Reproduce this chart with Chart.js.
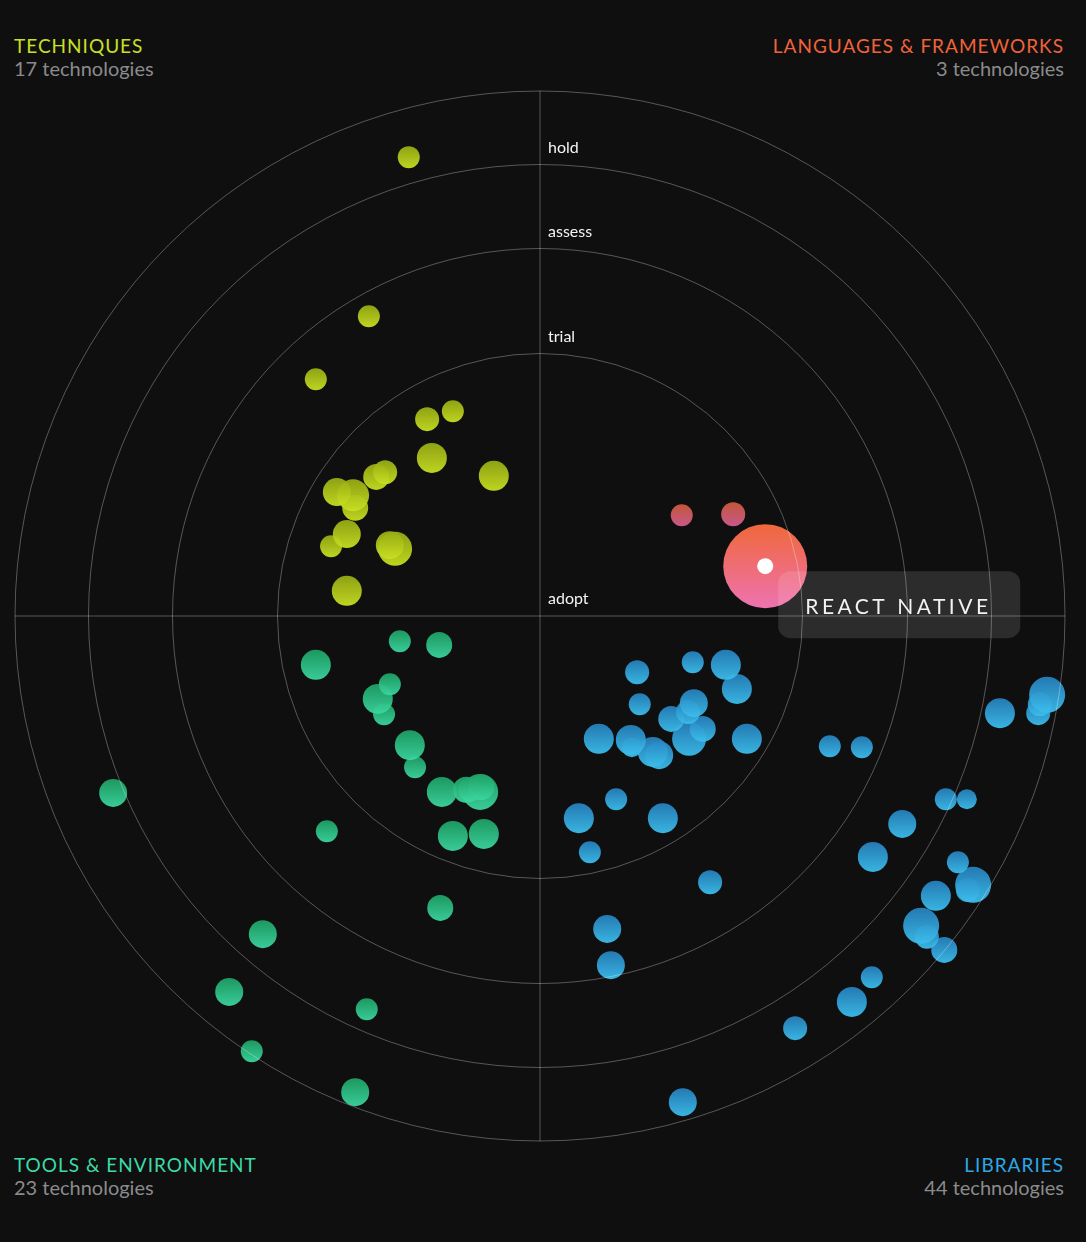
<!DOCTYPE html>
<html>
<head>
<meta charset="utf-8">
<title>Tech radar</title>
<script src="https://cdn.jsdelivr.net/npm/chart.js@4.4.1/dist/chart.umd.min.js"></script>
<style>
  html, body { margin: 0; padding: 0; background: #0f0f10; }
  body { width: 1086px; height: 1242px; position: relative; overflow: hidden; font-family: Lato, 'Noto Sans', sans-serif; }
  #radar { position: absolute; left: 0; top: 0; }
  .quad { position: absolute; line-height: 22px; }
  .quad .name { font-size: 19px; letter-spacing: 1px; }
  .quad .count { font-size: 20px; color: #8b8b8b; }
  .tl { left: 14px; top: 35px; }
  .tr { right: 22px; top: 35px; text-align: right; }
  .bl { left: 14px; top: 1154px; }
  .br { right: 22px; top: 1154px; text-align: right; }
</style>
</head>
<body>
<div class="quad tl"><div class="name" style="color:#c9e023">TECHNIQUES</div><div class="count">17 technologies</div></div>
<div class="quad tr"><div class="name" style="color:#f0633a">LANGUAGES &amp; FRAMEWORKS</div><div class="count">3 technologies</div></div>
<div class="quad bl"><div class="name" style="color:#3ddaa6">TOOLS &amp; ENVIRONMENT</div><div class="count">23 technologies</div></div>
<div class="quad br"><div class="name" style="color:#2ea7e2">LIBRARIES</div><div class="count">44 technologies</div></div>
<canvas id="radar" width="1086" height="1242"></canvas>
<script>
// ---- data (radar units: outer ring = 100) ----
const rings = ['adopt', 'trial', 'assess', 'hold'];
const ringStarts = [0, 50, 70, 86];
const ringEnds = [50, 70, 86, 100];

const techniques = [
  { x: -25.0, y: 87.4, r: 11 }, { x: -32.6, y: 57.1, r: 11 }, { x: -42.7, y: 45.1, r: 11 },
  { x: -21.5, y: 37.5, r: 12 }, { x: -16.6, y: 39.0, r: 11 }, { x: -20.6, y: 30.1, r: 15 },
  { x: -8.8, y: 26.7, r: 15 }, { x: -31.2, y: 26.5, r: 13 }, { x: -29.5, y: 27.4, r: 12 },
  { x: -38.7, y: 23.6, r: 14 }, { x: -35.6, y: 23.0, r: 16 }, { x: -35.2, y: 20.6, r: 13 },
  { x: -36.8, y: 15.6, r: 14 }, { x: -39.8, y: 13.3, r: 11 }, { x: -28.6, y: 13.5, r: 14 },
  { x: -27.6, y: 12.8, r: 17 }, { x: -36.8, y: 4.8, r: 15 }
];

const languages = [
  { x: 27.0, y: 19.2, r: 11 }, { x: 36.8, y: 19.4, r: 12 }, { x: 42.9, y: 9.5, r: 12, name: 'REACT NATIVE' }
];
const highlightIndex = 2;

const tools = [
  { x: -42.7, y: -9.3, r: 15 }, { x: -26.7, y: -4.8, r: 11 }, { x: -19.2, y: -5.5, r: 13 },
  { x: -28.6, y: -13.0, r: 11 }, { x: -30.9, y: -15.8, r: 15 }, { x: -29.7, y: -18.7, r: 11 },
  { x: -24.8, y: -24.6, r: 15 }, { x: -23.8, y: -28.8, r: 11 }, { x: -18.7, y: -33.5, r: 15 },
  { x: -14.1, y: -33.1, r: 13 }, { x: -13.3, y: -33.0, r: 12 }, { x: -11.4, y: -33.5, r: 18 },
  { x: -11.2, y: -32.6, r: 13 }, { x: -16.6, y: -41.9, r: 15 }, { x: -10.7, y: -41.5, r: 15 },
  { x: -40.6, y: -41.0, r: 11 }, { x: -81.3, y: -33.7, r: 14 }, { x: -19.0, y: -55.6, r: 13 },
  { x: -52.8, y: -60.6, r: 14 }, { x: -59.2, y: -71.6, r: 14 }, { x: -33.0, y: -74.9, r: 11 },
  { x: -54.9, y: -82.9, r: 11 }, { x: -35.2, y: -90.7, r: 14 }
];

const libraries = [
  { x: 18.5, y: -10.7, r: 12 }, { x: 29.1, y: -8.8, r: 11 }, { x: 35.4, y: -9.3, r: 15 },
  { x: 37.5, y: -13.9, r: 15 }, { x: 19.0, y: -16.8, r: 11 }, { x: 28.2, y: -18.3, r: 12 },
  { x: 29.3, y: -16.6, r: 14 }, { x: 25.0, y: -19.6, r: 13 }, { x: 31.0, y: -21.5, r: 13 },
  { x: 28.4, y: -23.4, r: 17 }, { x: 11.2, y: -23.4, r: 15 }, { x: 17.3, y: -23.6, r: 15 },
  { x: 17.5, y: -25.0, r: 10 }, { x: 21.5, y: -25.9, r: 15 }, { x: 22.7, y: -26.5, r: 14 },
  { x: 39.4, y: -23.4, r: 15 }, { x: 14.5, y: -34.9, r: 11 }, { x: 7.4, y: -38.5, r: 15 },
  { x: 23.4, y: -38.5, r: 15 }, { x: 9.5, y: -45.0, r: 11 }, { x: 32.4, y: -50.7, r: 12 },
  { x: 55.2, y: -24.8, r: 11 }, { x: 61.3, y: -25.0, r: 11 }, { x: 87.6, y: -18.5, r: 15 },
  { x: 94.9, y: -18.5, r: 12 }, { x: 95.2, y: -16.8, r: 12 }, { x: 96.6, y: -15.0, r: 18 },
  { x: 77.3, y: -34.9, r: 11 }, { x: 81.3, y: -34.9, r: 10 }, { x: 69.0, y: -39.6, r: 14 },
  { x: 63.4, y: -45.9, r: 15 }, { x: 79.6, y: -46.9, r: 11 }, { x: 82.5, y: -51.2, r: 18 },
  { x: 81.5, y: -52.2, r: 12 }, { x: 75.4, y: -53.3, r: 15 }, { x: 72.6, y: -59.0, r: 18 },
  { x: 73.7, y: -61.1, r: 12 }, { x: 77.0, y: -63.6, r: 13 }, { x: 12.8, y: -59.6, r: 14 },
  { x: 13.5, y: -66.5, r: 14 }, { x: 63.2, y: -68.8, r: 11 }, { x: 59.4, y: -73.5, r: 15 },
  { x: 48.6, y: -78.5, r: 12 }, { x: 27.2, y: -92.6, r: 14 }
];

// ---- layout ----
const CENTER_X = 540, CENTER_Y = 616, PX_PER_UNIT = 5.25;
const W = 1086, H = 1242;
const HOVER_GROW = 30;

// vertical gradient inside each bubble, darker on top
function bubbleFill(top, bottom, grow) {
  return function (ctx) {
    const chart = ctx.chart;
    const raw = ctx.raw;
    if (!raw || !chart.scales || !chart.scales.x) return top;
    const x = chart.scales.x.getPixelForValue(raw.x);
    const y = chart.scales.y.getPixelForValue(raw.y);
    if (!isFinite(x) || !isFinite(y)) return top;
    const r = raw.r + (grow || 0);
    const g = chart.ctx.createLinearGradient(x, y - r, x, y + r);
    g.addColorStop(0, top);
    g.addColorStop(1, bottom);
    return g;
  };
}

function dataset(label, data, top, bottom) {
  return {
    label: label,
    data: data,
    clip: false,
    backgroundColor: bubbleFill(top, bottom, 0),
    hoverBackgroundColor: bubbleFill('rgba(240,104,58,1)', 'rgba(238,114,176,1)', HOVER_GROW),
    borderWidth: 0,
    hoverBorderWidth: 0,
    hoverRadius: HOVER_GROW
  };
}

const radarGrid = {
  id: 'radarGrid',
  beforeDatasetsDraw(chart) {
    const { ctx, scales: { x, y } } = chart;
    const cx = x.getPixelForValue(0), cy = y.getPixelForValue(0);
    const unit = x.getPixelForValue(1) - cx;
    ctx.save();
    ctx.strokeStyle = 'rgba(255,255,255,0.30)';
    ctx.lineWidth = 1;
    ringEnds.forEach(v => {
      ctx.beginPath();
      ctx.arc(cx, cy, v * unit, 0, Math.PI * 2);
      ctx.stroke();
    });
    const outer = ringEnds[ringEnds.length - 1];
    ctx.beginPath();
    ctx.moveTo(x.getPixelForValue(-outer), cy);
    ctx.lineTo(x.getPixelForValue(outer), cy);
    ctx.moveTo(cx, y.getPixelForValue(outer));
    ctx.lineTo(cx, y.getPixelForValue(-outer));
    ctx.stroke();

    ctx.fillStyle = '#f4f4f4';
    ctx.font = '16px Lato, "Noto Sans", sans-serif';
    ctx.textBaseline = 'middle';
    rings.forEach((name, i) => {
      ctx.fillText(name, cx + 8, y.getPixelForValue(ringStarts[i] + 3.2));
    });
    ctx.restore();

    // overlapping bubbles keep the lighter colour
    ctx.save();
    ctx.globalCompositeOperation = 'lighten';
  },
  afterDatasetsDraw(chart) {
    const ctx = chart.ctx;
    ctx.restore();
    chart.getActiveElements().forEach(a => {
      const el = a.element;
      const item = chart.data.datasets[a.datasetIndex].data[a.index];
      ctx.save();
      ctx.fillStyle = '#ffffff';
      ctx.beginPath();
      ctx.arc(el.x, el.y, 8, 0, Math.PI * 2);
      ctx.fill();

      ctx.fillStyle = 'rgba(255,255,255,0.12)';
      ctx.beginPath();
      ctx.roundRect(el.x + 13, el.y + 5, 242, 67, 12);
      ctx.fill();

      ctx.fillStyle = '#f2f2f2';
      ctx.font = '21px Lato, "Noto Sans", sans-serif';
      ctx.letterSpacing = '3.5px';
      ctx.textBaseline = 'middle';
      ctx.fillText(item.name, el.x + 40, el.y + 41);
      ctx.restore();
    });
  }
};

const chart = new Chart(document.getElementById('radar'), {
  type: 'bubble',
  data: {
    datasets: [
      dataset('Techniques', techniques, 'rgba(150,170,20,0.95)', 'rgba(200,224,34,0.95)'),
      dataset('Languages & Frameworks', languages, 'rgba(205,92,58,0.95)', 'rgba(212,92,146,0.95)'),
      dataset('Tools & Environment', tools, 'rgba(30,160,100,0.95)', 'rgba(60,214,160,0.95)'),
      dataset('Libraries', libraries, 'rgba(38,128,188,0.95)', 'rgba(60,190,236,0.95)')
    ]
  },
  options: {
    responsive: false,
    animation: false,
    events: [],
    layout: { padding: 0 },
    scales: {
      x: { type: 'linear', display: false, min: -CENTER_X / PX_PER_UNIT, max: (W - CENTER_X) / PX_PER_UNIT },
      y: { type: 'linear', display: false, min: -(H - CENTER_Y) / PX_PER_UNIT, max: CENTER_Y / PX_PER_UNIT }
    },
    plugins: {
      legend: { display: false },
      tooltip: { enabled: false }
    }
  },
  plugins: [radarGrid]
});

// bubble charts pad the chart area by the largest radius;
// re-fit the axis ranges so the radar centre and scale stay put
const area = chart.chartArea;
chart.options.scales.x.min = (area.left - CENTER_X) / PX_PER_UNIT;
chart.options.scales.x.max = (area.right - CENTER_X) / PX_PER_UNIT;
chart.options.scales.y.min = (CENTER_Y - area.bottom) / PX_PER_UNIT;
chart.options.scales.y.max = (CENTER_Y - area.top) / PX_PER_UNIT;

chart.setActiveElements([{ datasetIndex: 1, index: highlightIndex }]);
chart.update();
</script>
</body>
</html>
